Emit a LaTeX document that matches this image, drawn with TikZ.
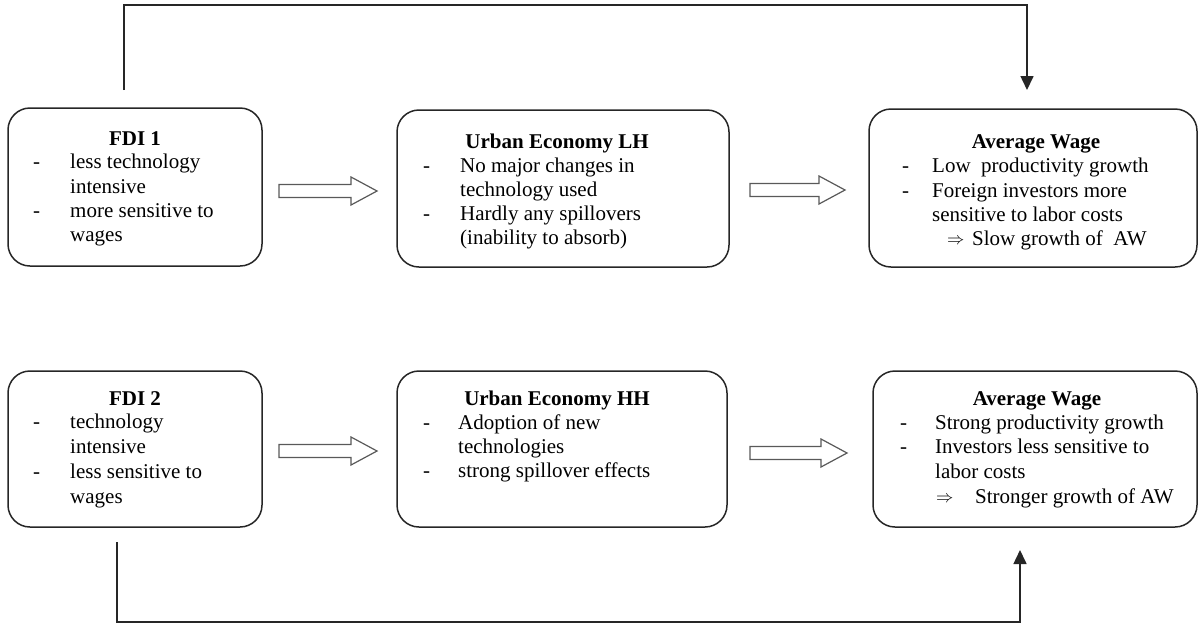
\documentclass[tikz,border=0pt]{standalone}
\usepackage{fontspec}
\setmainfont{Liberation Serif}
\usetikzlibrary{arrows.meta}
\tikzset{
  box/.style={draw=black!85, line width=1.5pt, rounded corners=22pt, inner sep=0pt},
  ln/.style={anchor=base west, inner sep=0pt, font=\fontsize{21}{24}\selectfont},
  ttl/.style={anchor=base, inner sep=0pt, font=\fontsize{21}{24}\selectfont\bfseries},
  harrow/.style={draw=black!65, line width=1.2pt, fill=white, line join=miter},
  conn/.style={line width=1.6pt, draw=black!85},
  tipend/.style={-{Triangle[width=13pt,length=14pt]}}
}
\newcommand\hollowarr[3]{% x1, x2, y
  \draw[harrow] (#1,#3-6.5) -- (#2-26,#3-6.5) -- (#2-26,#3-14) -- (#2,#3) -- (#2-26,#3+14) -- (#2-26,#3+6.5) -- (#1,#3+6.5) -- cycle;}
\newcommand\impl{{\fontsize{18}{18}\selectfont$\Rightarrow$}}
\begin{document}
\begin{tikzpicture}[x=1pt,y=-1pt]
\useasboundingbox (0,0) rectangle (1201,625);

% boxes
\node[box, minimum width=254pt, minimum height=158pt] (fdi1) at (135,187) {};
\node[box, minimum width=332pt, minimum height=157pt] (ue1) at (563,188.5) {};
\node[box, minimum width=328pt, minimum height=158pt] (aw1) at (1033,188) {};
\node[box, minimum width=254pt, minimum height=156pt] (fdi2) at (135,449) {};
\node[box, minimum width=330pt, minimum height=156pt] (ue2) at (562,449) {};
\node[box, minimum width=324pt, minimum height=156pt] (aw2) at (1035,449) {};

% box 1 text
\node[ttl] (t1) at (135,145) {FDI 1};
\node[ln] (d1a) at (33,168) {-};
\node[ln] (l1a) at (70,168) {less technology};
\node[ln] (l1b) at (70,193) {intensive};
\node[ln] (d1b) at (33,217) {-};
\node[ln] (l1c) at (70,217) {more sensitive to};
\node[ln] (l1d) at (70,241) {wages};

% box 2 text
\node[ttl] (t2) at (557,148) {Urban Economy LH};
\node[ln] (d2a) at (423,172) {-};
\node[ln] (l2a) at (460,172) {No major changes in};
\node[ln] (l2b) at (460,196) {technology used};
\node[ln] (d2b) at (423,220) {-};
\node[ln] (l2c) at (460,220) {Hardly any spillovers};
\node[ln] (l2d) at (460,244) {(inability to absorb)};

% box 3 text
\node[ttl] (t3) at (1036,148) {Average Wage};
\node[ln] (d3a) at (902,172) {-};
\node[ln] (l3a) at (932,172) {Low~~productivity growth};
\node[ln] (d3b) at (902,197) {-};
\node[ln] (l3b) at (932,197) {Foreign investors more};
\node[ln] (l3c) at (932,221) {sensitive to labor costs};
\node[ln] (i3) at (947,244) {\impl};
\node[ln] (l3d) at (972,245) {Slow growth of~ AW};

% box 4 text
\node[ttl] (t4) at (135,405) {FDI 2};
\node[ln] (d4a) at (33,428) {-};
\node[ln] (l4a) at (70,428) {technology};
\node[ln] (l4b) at (70,453) {intensive};
\node[ln] (d4b) at (33,478) {-};
\node[ln] (l4c) at (70,478) {less sensitive to};
\node[ln] (l4d) at (70,503) {wages};

% box 5 text
\node[ttl] (t5) at (557,405) {Urban Economy HH};
\node[ln] (d5a) at (423,429) {-};
\node[ln] (l5a) at (458,429) {Adoption of new};
\node[ln] (l5b) at (458,453) {technologies};
\node[ln] (d5b) at (423,477) {-};
\node[ln] (l5c) at (458,477) {strong spillover effects};

% box 6 text
\node[ttl] (t6) at (1037,405) {Average Wage};
\node[ln] (d6a) at (900,429) {-};
\node[ln] (l6a) at (935,429) {Strong productivity growth};
\node[ln] (d6b) at (900,453) {-};
\node[ln] (l6b) at (935,453) {Investors less sensitive to};
\node[ln] (l6c) at (935,478) {labor costs};
\node[ln] (i6) at (936,502) {\impl};
\node[ln] (l6d) at (975,503) {Stronger growth of AW};

% hollow arrows
\hollowarr{279}{377}{191}
\hollowarr{750}{845}{190}
\hollowarr{279}{377}{451}
\hollowarr{750}{847}{453}

% connectors
\coordinate (c1s) at (124,90);
\coordinate (c1e) at (1027,90);
\coordinate (c1t) at (124,5);
\draw[conn,tipend] (c1s) -- (c1t) -| (c1e);
\coordinate (c2s) at (117,542);
\coordinate (c2e) at (1020,550);
\coordinate (c2b) at (117,622);
\draw[conn,tipend] (c2s) -- (c2b) -| (c2e);
\end{tikzpicture}
\end{document}
